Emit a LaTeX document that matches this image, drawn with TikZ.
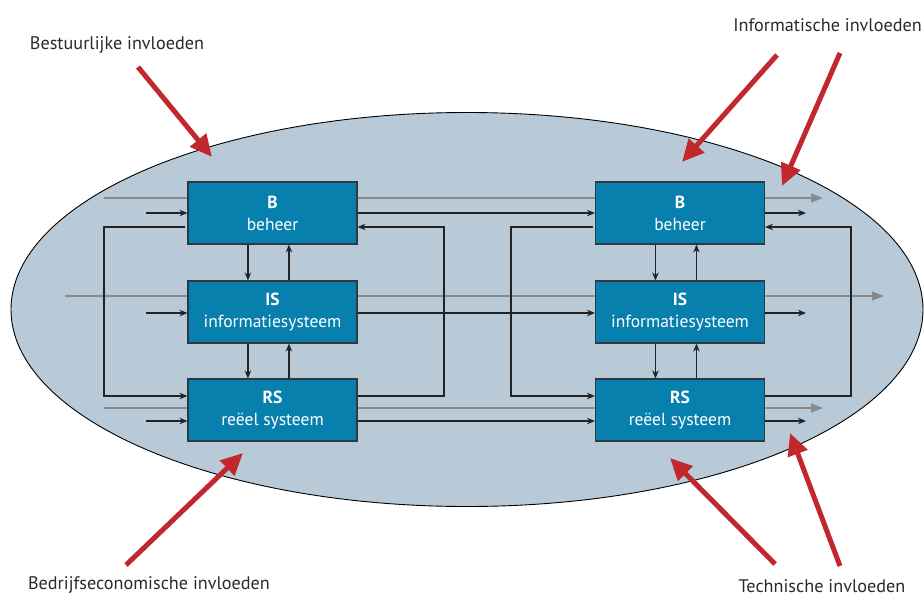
\documentclass[tikz,border=0pt]{standalone}
\usepackage{fontspec}
\setmainfont{PT Sans}
\usetikzlibrary{arrows.meta,calc}
\definecolor{cloud}{HTML}{B8CAD8}
\definecolor{boxblue}{HTML}{0780AD}
\definecolor{boxline}{HTML}{2E3A40}
\definecolor{flowgray}{HTML}{8A8A8A}
\definecolor{linkblack}{HTML}{222222}
\definecolor{influence}{HTML}{C1272D}
\definecolor{labeltext}{HTML}{2A2A2A}
\tikzset{
  sysbox/.style={draw=boxline,line width=1.1pt,fill=boxblue,text=white,
    minimum width=169pt,minimum height=62pt,inner sep=0pt,align=center,
    font=\fontsize{17.5}{22}\selectfont},
  flow/.style={draw=flowgray,line width=1.6pt},
  flowend/.style={flow,-{Triangle[length=12pt,width=9pt]}},
  link/.style={draw=linkblack,line width=1.2pt},
  linkend/.style={link,-{Stealth[length=8pt,width=6.5pt]}},
  push/.style={draw=influence,line width=5pt,-{Triangle[length=22pt,width=20pt]}},
  tag/.style={text=labeltext,font=\fontsize{18.2}{20}\selectfont,inner sep=0pt},
}
\begin{document}
\begin{tikzpicture}[x=1pt,y=-1pt]
\useasboundingbox (0,0) rectangle (924,597);

% the organisation as a whole
\draw[fill=cloud,line width=0.9pt] (467,309.5) ellipse [x radius=456,y radius=197];

% subsystems of the two organisations
\node[sysbox] (B1)  at (272.5,213) {\textbf{B}\\beheer};
\node[sysbox] (IS1) at (272.5,312) {\textbf{IS}\\informatiesysteem};
\node[sysbox] (RS1) at (272.5,410) {\textbf{RS}\\reëel systeem};
\node[sysbox] (B2)  at (680,213) {\textbf{B}\\beheer};
\node[sysbox] (IS2) at (680,312) {\textbf{IS}\\informatiesysteem};
\node[sysbox] (RS2) at (680,410) {\textbf{RS}\\reëel systeem};

% free ends of the flows
\coordinate (gB0) at (104,198);  \coordinate (gB9) at (823,198);
\coordinate (gI0) at (65,296);   \coordinate (gI9) at (884,296);
\coordinate (gR0) at (104,408);  \coordinate (gR9) at (823,408);
\coordinate (kB0) at (146,213);  \coordinate (kB9) at (806,213);
\coordinate (kI0) at (146,313);  \coordinate (kI9) at (806,313);
\coordinate (kR0) at (146,421);  \coordinate (kR9) at (806,421);

% grey flows running through both organisations
\draw[flow] (gB0) -- ($(B1.west)+(0,-15)$);
\draw[flow] ($(B1.east)+(0,-15)$) -- ($(B2.west)+(0,-15)$);
\draw[flowend] ($(B2.east)+(0,-15)$) -- (gB9);
\draw[flow] (gI0) -- ($(IS1.west)+(0,-16)$);
\draw[flow] ($(IS1.east)+(0,-16)$) -- ($(IS2.west)+(0,-16)$);
\draw[flowend] ($(IS2.east)+(0,-16)$) -- (gI9);
\draw[flow] (gR0) -- ($(RS1.west)+(0,-2)$);
\draw[flow] ($(RS1.east)+(0,-2)$) -- ($(RS2.west)+(0,-2)$);
\draw[flowend] ($(RS2.east)+(0,-2)$) -- (gR9);

% inputs and outputs
\draw[linkend] (kB0) -- (B1.west);
\draw[linkend] (B1.east) -- (B2.west);
\draw[linkend] (B2.east) -- (kB9);
\draw[linkend] (kI0) -- ($(IS1.west)+(0,1)$);
\draw[linkend] ($(IS1.east)+(0,1)$) -- ($(IS2.west)+(0,1)$);
\draw[linkend] ($(IS2.east)+(0,1)$) -- (kI9);
\draw[linkend] (kR0) -- ($(RS1.west)+(0,11)$);
\draw[linkend] ($(RS1.east)+(0,11)$) -- ($(RS2.west)+(0,11)$);
\draw[linkend] ($(RS2.east)+(0,11)$) -- (kR9);

% control loops and vertical links within each organisation
\foreach \b/\i/\r/\xl/\xr in {B1/IS1/RS1/104/444, B2/IS2/RS2/511/851}{
  \draw[linkend] ($(\b.west)+(-2,14)$) -| (\xl,320) |- ($(\r.west)+(0,-14)$);
  \draw[linkend] ($(\r.east)+(0,-14)$) -| (\xr,320) |- ($(\b.east)+(0,14)$);
  \draw[linkend] ($(\b.south west)+(60.5,0)$) -- ($(\i.north west)+(60.5,0)$);
  \draw[linkend] ($(\i.north west)+(101.5,0)$) -- ($(\b.south west)+(101.5,0)$);
  \draw[linkend] ($(\i.south west)+(60.5,0)$) -- ($(\r.north west)+(60.5,0)$);
  \draw[linkend] ($(\r.north west)+(101.5,0)$) -- ($(\i.south west)+(101.5,0)$);
}

% external influences
\node[tag] (tBest) at (117,45) {Bestuurlijke invloeden};
\node[tag,anchor=east] (tInfo) at (922,25) {Informatische invloeden};
\node[tag] (tBedr) at (149,585) {Bedrijfseconomische invloeden};
\node[tag] (tTech) at (822,586) {Technische invloeden};

\coordinate (pBest) at (138,67);   \coordinate (hBest) at (212,157);
\coordinate (pInfoA) at (777,55);  \coordinate (hInfoA) at (682,162);
\coordinate (pInfoB) at (840,53);  \coordinate (hInfoB) at (782,186);
\coordinate (pBedr) at (126,565);  \coordinate (hBedr) at (243,453);
\coordinate (pTechA) at (775,564); \coordinate (hTechA) at (670,458);
\coordinate (pTechB) at (840,566); \coordinate (hTechB) at (790,433);

\draw[push] (pBest) -- (hBest);
\draw[push] (pInfoA) -- (hInfoA);
\draw[push] (pInfoB) -- (hInfoB);
\draw[push] (pBedr) -- (hBedr);
\draw[push] (pTechA) -- (hTechA);
\draw[push] (pTechB) -- (hTechB);
\end{tikzpicture}
\end{document}
